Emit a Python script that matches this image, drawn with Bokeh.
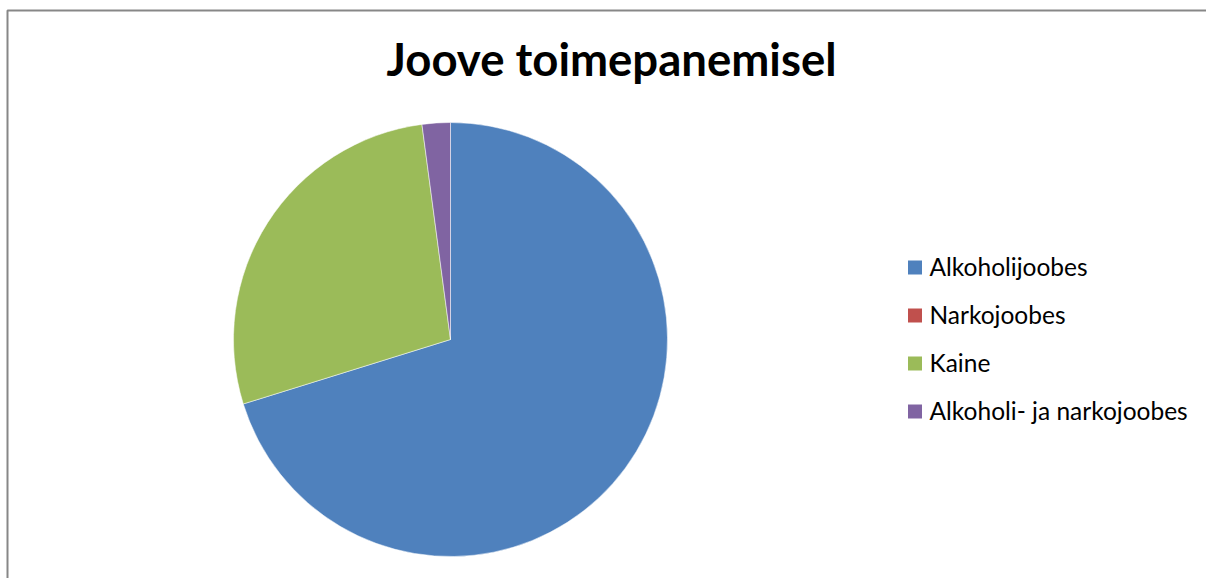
import math
from bokeh.plotting import figure
from bokeh.models import Range1d, ColumnDataSource
from bokeh.core.properties import value
from bokeh.embed import file_html
from bokeh.resources import INLINE

title = "Joove toimepanemisel"
categories = ["Alkoholijoobes", "Narkojoobes", "Kaine", "Alkoholi- ja narkojoobes"]
shares = [70.2, 0.0, 27.7, 2.1]
colors = ["#4F81BD", "#C0504D", "#9BBB59", "#8064A2"]

W, H = 1206, 578
p = figure(width=W, height=H, output_backend="svg", toolbar_location=None,
           x_range=Range1d(0, W), y_range=Range1d(0, H),
           x_axis_location=None, y_axis_location=None, min_border=0,
           outline_line_color=None, tools="")
p.grid.visible = False
p.background_fill_color = "white"
p.border_fill_color = "white"

# chart area border (cropped at right/bottom)
p.line(x=[7, 7, W], y=[0, H - 10, H - 10], line_color="#878787", line_width=2)

# pie (zero-size slices are skipped so they are not drawn as full circles)
total = sum(shares)
cx, cy, r = 450, H - 339, 217
starts, ends, cols = [], [], []
cum = 0.0
for v, c in zip(shares, colors):
    a0 = math.pi / 2 - 2 * math.pi * cum / total
    cum += v
    a1 = math.pi / 2 - 2 * math.pi * cum / total
    if v > 0:
        starts.append(a0)
        ends.append(a1)
        cols.append(c)
src = ColumnDataSource(dict(start=starts, end=ends, color=cols))
p.wedge(x=cx, y=cy, radius=r, start_angle="start", end_angle="end", direction="clock",
        fill_color="color", line_color="white", line_width=1, line_alpha=0.5, source=src)

# title
p.text(x=[611], y=[H - 58], text=[title], text_font=value("Lato"), text_font_style="bold",
       text_font_size="45.5px", text_align="center", text_baseline="middle", text_color="black")

# legend
ly = [H - (267 + 48 * i) for i in range(len(categories))]
p.rect(x=[914.5] * 4, y=ly, width=14, height=14, fill_color=colors, line_color=None)
p.text(x=[929] * 4, y=[y + 1 for y in ly], text=categories, text_font=value("Lato"),
       text_font_size="24.5px", text_align="left", text_baseline="middle", text_color="black")

open("out.html", "w").write(file_html(p, INLINE))
